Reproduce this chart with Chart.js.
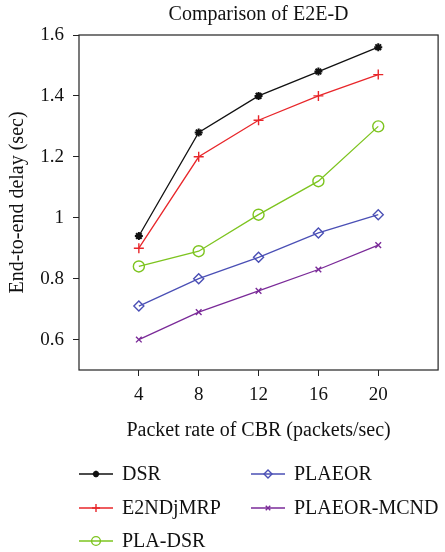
<!DOCTYPE html>
<html>
<head>
<meta charset="utf-8">
<script src="https://cdn.jsdelivr.net/npm/chart.js@4"></script>
<style>
  html, body { margin: 0; padding: 0; background: #fff; }
  #wrap { width: 445px; height: 552px; position: relative; }
</style>
</head>
<body>
<div id="wrap"><canvas id="my-chart" width="445" height="552"></canvas></div>
<script>
'use strict';

// ***** DATA *****
let rates = [4, 8, 12, 16, 20];
let yTicks = [0.6, 0.8, 1, 1.2, 1.4, 1.6];
let dsr = [0.94, 1.28, 1.40, 1.48, 1.56];
let e2ndjmrp = [0.90, 1.20, 1.32, 1.40, 1.47];
let plaDsr = [0.84, 0.89, 1.01, 1.12, 1.30];
let plaeor = [0.71, 0.80, 0.87, 0.95, 1.01];
let plaeorMcnd = [0.60, 0.69, 0.76, 0.83, 0.91];

let chartTitle = 'Comparison of E2E-D';
let xTitle = 'Packet rate of CBR (packets/sec)';
let yTitle = 'End-to-end delay (sec)';

const FONT = '"Liberation Serif", "DejaVu Serif", serif';

// ***** HELPERS *****
function toPoints(values) {
  let pts = [];
  for (let i = 0; i < rates.length; i++) {
    pts.push({ x: rates[i], y: values[i] });
  }
  return pts;
}

function makeSeries(label, values, color, style, radius) {
  return {
    label: label,
    data: toPoints(values),
    borderColor: color,
    backgroundColor: style === 'star' ? color : '#fff',
    borderWidth: 1.3,
    pointStyle: style,
    pointRadius: radius,
    pointBorderWidth: style === 'star' ? 2 : 1.4,
    pointBackgroundColor: style === 'star' ? color : 'rgba(0,0,0,0)',
    tension: 0
  };
}

let datasets = [
  makeSeries('DSR', dsr, '#111111', 'star', 4),
  makeSeries('E2NDjMRP', e2ndjmrp, '#e8262a', 'cross', 5),
  makeSeries('PLA-DSR', plaDsr, '#7dc41f', 'circle', 5.5),
  makeSeries('PLAEOR', plaeor, '#4a4fb5', 'rectRot', 5),
  makeSeries('PLAEOR-MCND', plaeorMcnd, '#7a2a98', 'crossRot', 4)
];

// legend slots: [column x, row y]
let legendSlots = [[79, 474], [79, 508], [79, 541], [251, 474], [251, 508]];

// ***** PLUGIN: frame, titles, legend *****
let decorations = {
  id: 'decorations',
  afterDraw(chart) {
    let c = chart.ctx;
    let a = chart.chartArea;
    c.save();
    c.strokeStyle = '#222';
    c.lineWidth = 1.2;
    c.strokeRect(a.left, a.top, a.right - a.left, a.bottom - a.top);

    c.fillStyle = '#111';
    c.textAlign = 'center';
    c.textBaseline = 'middle';
    c.font = '20px ' + FONT;
    c.fillText(chartTitle, (a.left + a.right) / 2, 15);
    c.fillText(xTitle, (a.left + a.right) / 2, 431);

    c.save();
    c.translate(18, (a.top + a.bottom) / 2);
    c.rotate(-Math.PI / 2);
    c.fillText(yTitle, 0, 0);
    c.restore();

    // legend
    c.textAlign = 'left';
    for (let i = 0; i < chart.data.datasets.length; i++) {
      let ds = chart.data.datasets[i];
      let x = legendSlots[i][0];
      let y = legendSlots[i][1];
      c.strokeStyle = ds.borderColor;
      c.lineWidth = 1.3;
      c.beginPath();
      c.moveTo(x, y);
      c.lineTo(x + 34, y);
      c.stroke();
      c.fillStyle = ds.pointBackgroundColor;
      c.lineWidth = ds.pointBorderWidth;
      Chart.helpers.drawPoint(c, {
        pointStyle: ds.pointStyle,
        radius: ds.pointRadius * 0.8,
        borderWidth: ds.pointBorderWidth
      }, x + 17, y);
      c.fillStyle = '#111';
      c.fillText(ds.label, x + 43, y + 1);
    }
    c.restore();
  }
};

// ***** CHART *****
let ctx = document.getElementById('my-chart');

new Chart(ctx, {
  type: 'line',
  data: { datasets: datasets },
  options: {
    responsive: false,
    animation: false,
    layout: { padding: { left: 0, right: 4, top: 35, bottom: 0 } },
    plugins: {
      legend: { display: false },
      title: { display: false },
      tooltip: { enabled: false }
    },
    scales: {
      x: {
        type: 'linear',
        min: 0,
        max: 24,
        afterBuildTicks: (scale) => { scale.ticks = rates.map(v => ({ value: v })); },
        afterFit: (scale) => { scale.height = 182; },
        grid: { drawOnChartArea: false, drawTicks: true, tickLength: 6, tickColor: '#222', color: '#222' },
        border: { display: false },
        ticks: { color: '#111', font: { family: FONT, size: 19 }, padding: 8, maxRotation: 0 }
      },
      y: {
        min: 0.5,
        max: 1.6,
        afterBuildTicks: (scale) => { scale.ticks = yTicks.map(v => ({ value: v })); },
        afterFit: (scale) => { scale.width = 79; },
        grid: { drawOnChartArea: false, drawTicks: true, tickLength: 6, tickColor: '#222', color: '#222' },
        border: { display: false },
        ticks: {
          color: '#111',
          font: { family: FONT, size: 19 },
          padding: 9,
          callback: (v) => String(Math.round(v * 10) / 10)
        }
      }
    }
  },
  plugins: [decorations]
});
</script>
</body>
</html>
